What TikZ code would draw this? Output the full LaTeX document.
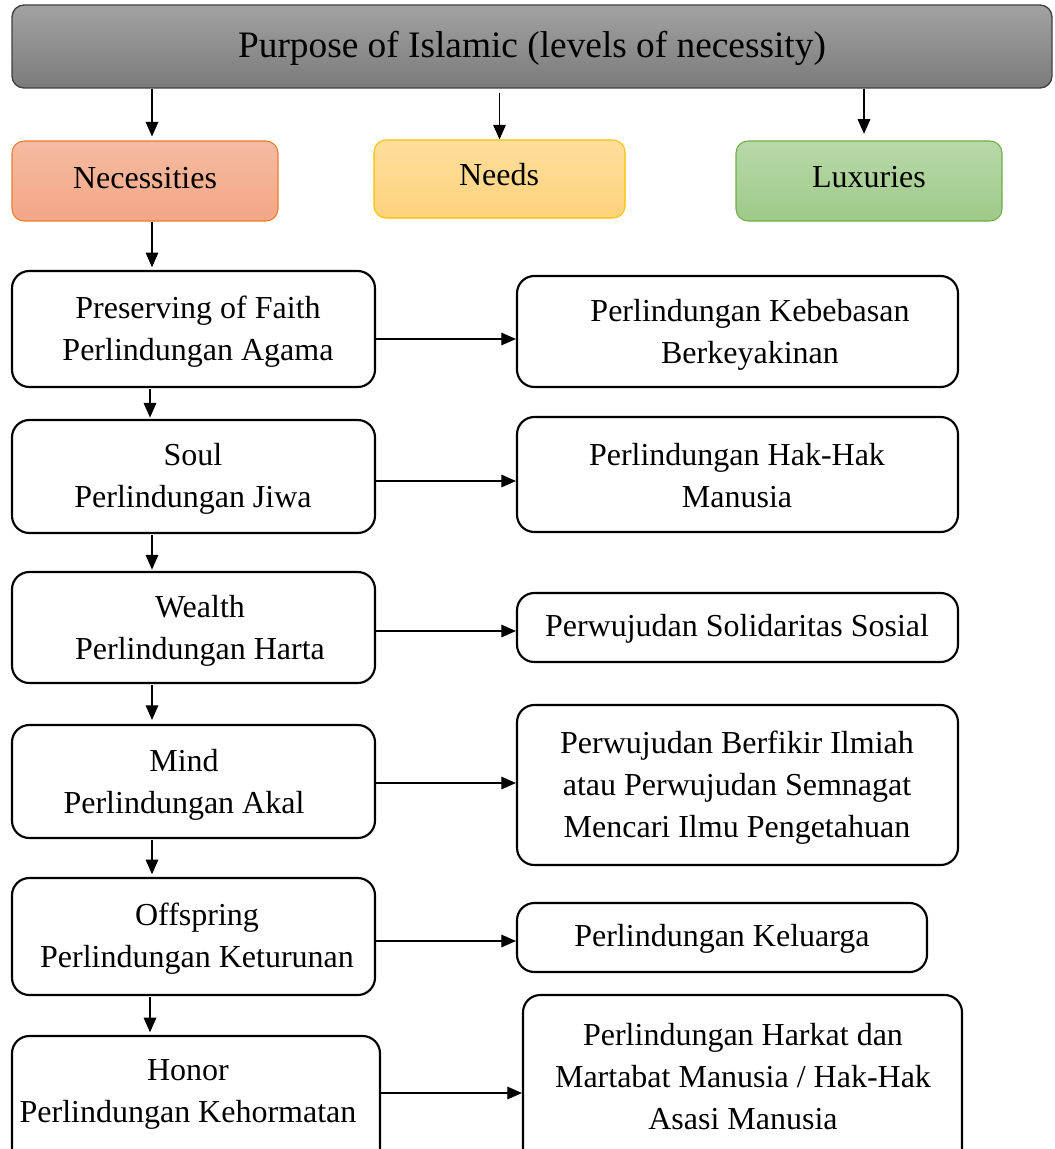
\documentclass[tikz,border=0pt]{standalone}
\usepackage{fontspec}
\setmainfont{Liberation Serif}
\usetikzlibrary{arrows.meta}
\definecolor{grayT}{HTML}{A2A2A2}
\definecolor{grayB}{HTML}{7B7B7B}
\definecolor{necT}{HTML}{F5BBA1}
\definecolor{necB}{HTML}{F3A785}
\definecolor{necD}{HTML}{ED7D31}
\definecolor{needT}{HTML}{FEDE9C}
\definecolor{needB}{HTML}{FDD27C}
\definecolor{needD}{HTML}{FFC000}
\definecolor{luxT}{HTML}{B8D9A9}
\definecolor{luxB}{HTML}{9ECA88}
\definecolor{luxD}{HTML}{70AD47}
\tikzset{
  headbox/.style={draw=black!75, line width=1pt, rounded corners=9pt, top color=grayT, bottom color=grayB, inner sep=0pt},
  catbox/.style={line width=0.8pt, rounded corners=9pt, inner sep=0pt},
  whitebox/.style={draw=black, line width=1.6pt, rounded corners=13pt, fill=white, inner sep=0pt},
  txt/.style={font=\fontsize{24pt}{31.5pt}\selectfont, align=center, inner sep=0pt},
  arr/.style={draw=black, line width=0.8pt, -{Triangle[length=11pt,width=9.5pt]}},
}
\begin{document}
\begin{tikzpicture}[x=0.75pt,y=-0.75pt]
\clip (0,0) rectangle (1055,1149);
\fill[white] (0,0) rectangle (1055,1149);
% header
\node[headbox, minimum width=780pt, minimum height=62.25pt] (top) at (532,46.5) {};
\node[font=\fontsize{28pt}{32pt}\selectfont, inner sep=0pt] (toptxt) at (532,48) {Purpose of Islamic (levels of necessity)};
% categories
\node[catbox, draw=necD, top color=necT, bottom color=necB, minimum width=199.5pt, minimum height=60pt] (nec) at (145,181) {};
\node[txt] (nect) at (145,178) {Necessities};
\node[catbox, draw=needD, top color=needT, bottom color=needB, minimum width=188.25pt, minimum height=58.5pt] (needs) at (499.5,179) {};
\node[txt] (needst) at (499,175) {Needs};
\node[catbox, draw=luxD, top color=luxT, bottom color=luxB, minimum width=199.5pt, minimum height=60pt] (lux) at (869,181) {};
\node[txt] (luxt) at (869,177) {Luxuries};
% left column
\node[whitebox, minimum width=272.25pt, minimum height=87pt] (f1) at (193.5,329) {};
\node[txt] (f1t) at (198,331.5) {Preserving of Faith\\Perlindungan Agama};
\node[whitebox, minimum width=272.25pt, minimum height=84.75pt] (f2) at (193.5,476.5) {};
\node[txt] (f2t) at (193,479) {Soul\\Perlindungan Jiwa};
\node[whitebox, minimum width=272.25pt, minimum height=83.25pt] (f3) at (193.5,627.5) {};
\node[txt] (f3t) at (200,631) {Wealth\\Perlindungan Harta};
\node[whitebox, minimum width=272.25pt, minimum height=84.75pt] (f4) at (193.5,781.5) {};
\node[txt] (f4t) at (184,785) {Mind\\Perlindungan Akal};
\node[whitebox, minimum width=272.25pt, minimum height=87.75pt] (f5) at (193.5,936.5) {};
\node[txt] (f5t) at (197,939) {Offspring\\Perlindungan Keturunan};
\node[whitebox, minimum width=276pt, minimum height=96.75pt] (f6) at (196,1100.5) {};
\node[txt] (f6t) at (188,1094.5) {Honor\\Perlindungan Kehormatan};
% right column
\node[whitebox, minimum width=330.75pt, minimum height=83.25pt] (r1) at (737.5,331.5) {};
\node[txt] (r1t) at (750,335) {Perlindungan Kebebasan\\Berkeyakinan};
\node[whitebox, minimum width=330.75pt, minimum height=86.25pt] (r2) at (737.5,474.5) {};
\node[txt] (r2t) at (737,476) {Perlindungan Hak-Hak\\Manusia};
\node[whitebox, minimum width=330.75pt, minimum height=51.75pt] (r3) at (737.5,627.5) {};
\node[txt] (r3t) at (737,629) {Perwujudan Solidaritas Sosial};
\node[whitebox, minimum width=330.75pt, minimum height=120pt] (r4) at (737.5,785) {};
\node[txt] (r4t) at (737,788) {Perwujudan Berfikir Ilmiah\\atau Perwujudan Semnagat\\Mencari Ilmu Pengetahuan};
\node[whitebox, minimum width=307.5pt, minimum height=51.75pt] (r5) at (722,937.5) {};
\node[txt] (r5t) at (722,939) {Perlindungan Keluarga};
\node[whitebox, minimum width=329.25pt, minimum height=131.25pt] (r6) at (742.5,1082.5) {};
\node[txt] (r6t) at (743,1077) {Perlindungan Harkat dan\\Martabat Manusia / Hak-Hak\\Asasi Manusia};
% arrows from header
\draw[arr, shorten >=3pt] (top.south -| 152,0) -- (nec.north -| 152,0);
\draw[arr, shorten <=3pt] (needs.north |- top.south) -- (needs.north);
\draw[arr, shorten >=5pt] (top.south -| 864,0) -- (lux.north -| 864,0);
% vertical chain
\draw[arr, shorten >=2pt] (nec.south -| 152,0) -- (f1.north -| 152,0);
\draw[arr, shorten <=1pt, shorten >=1pt] (f1.south -| 150,0) -- (f2.north -| 150,0);
\draw[arr, shorten <=1pt, shorten >=1pt] (f2.south -| 152,0) -- (f3.north -| 152,0);
\draw[arr, shorten <=1pt, shorten >=3pt] (f3.south -| 152,0) -- (f4.north -| 152,0);
\draw[arr, shorten <=1pt, shorten >=2pt] (f4.south -| 152,0) -- (f5.north -| 152,0);
\draw[arr, shorten <=1pt, shorten >=2pt] (f5.south -| 150,0) -- (f6.north -| 150,0);
% horizontal links
\draw[arr] (f1.east |- 0,339) -- (r1.west |- 0,339);
\draw[arr] (f2.east |- 0,481) -- (r2.west |- 0,481);
\draw[arr] (f3.east |- 0,631) -- (r3.west |- 0,631);
\draw[arr] (f4.east |- 0,783) -- (r4.west |- 0,783);
\draw[arr] (f5.east |- 0,941) -- (r5.west |- 0,941);
\draw[arr] (f6.east |- 0,1093) -- (r6.west |- 0,1093);
\end{tikzpicture}
\end{document}
